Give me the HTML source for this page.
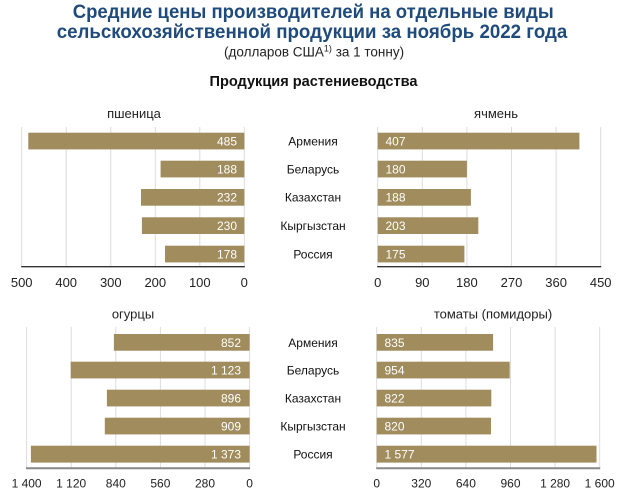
<!DOCTYPE html>
<html><head><meta charset="utf-8">
<style>
html,body{margin:0;padding:0;background:#fff;}
body{width:621px;height:492px;overflow:hidden;}
svg{display:block;font-family:"Liberation Sans",Arial,sans-serif;}
</style></head>
<body>
<svg width="621" height="492" viewBox="0 0 621 492" xmlns="http://www.w3.org/2000/svg">
<rect width="621" height="492" fill="#fff"/>
<text x="72.7" y="18" font-size="19.5" font-weight="bold" fill="#1f4a7c" textLength="481" lengthAdjust="spacingAndGlyphs">Средние цены производителей на отдельные виды</text>
<text x="56.7" y="38" font-size="19.5" font-weight="bold" fill="#1f4a7c" textLength="510.6" lengthAdjust="spacingAndGlyphs">сельскохозяйственной продукции за ноябрь 2022 года</text>
<text x="224" y="56.5" font-size="13.5" fill="#222">(долларов США<tspan font-size="9" dy="-5">1)</tspan><tspan dy="5"> за 1 тонну)</tspan></text>
<text x="209.5" y="86" font-size="14.5" font-weight="bold" fill="#111" textLength="208" lengthAdjust="spacingAndGlyphs">Продукция растениеводства</text>

<!-- subtitles -->
<text x="134" y="118" text-anchor="middle" font-size="13" fill="#222">пшеница</text>
<text x="496" y="118" text-anchor="middle" font-size="13" fill="#222">ячмень</text>
<text x="133" y="318.5" text-anchor="middle" font-size="13" fill="#222">огурцы</text>
<text x="493" y="318.5" text-anchor="middle" font-size="13" fill="#222">томаты (помидоры)</text>

<!-- gridlines -->
<g stroke="#dcdcdc" stroke-width="1">
<line x1="21.7" y1="127" x2="21.7" y2="267"/>
<line x1="66.2" y1="127" x2="66.2" y2="267"/>
<line x1="110.8" y1="127" x2="110.8" y2="267"/>
<line x1="155.3" y1="127" x2="155.3" y2="267"/>
<line x1="199.8" y1="127" x2="199.8" y2="267"/>
<line x1="244.3" y1="127" x2="244.3" y2="267"/>
<line x1="377.7" y1="127" x2="377.7" y2="267"/>
<line x1="422.3" y1="127" x2="422.3" y2="267"/>
<line x1="466.9" y1="127" x2="466.9" y2="267"/>
<line x1="511.5" y1="127" x2="511.5" y2="267"/>
<line x1="556.1" y1="127" x2="556.1" y2="267"/>
<line x1="600.7" y1="127" x2="600.7" y2="267"/>
<line x1="26.6" y1="327" x2="26.6" y2="468"/>
<line x1="71.2" y1="327" x2="71.2" y2="468"/>
<line x1="115.8" y1="327" x2="115.8" y2="468"/>
<line x1="160.4" y1="327" x2="160.4" y2="468"/>
<line x1="205" y1="327" x2="205" y2="468"/>
<line x1="249.6" y1="327" x2="249.6" y2="468"/>
<line x1="376.7" y1="327" x2="376.7" y2="468"/>
<line x1="421.3" y1="327" x2="421.3" y2="468"/>
<line x1="465.9" y1="327" x2="465.9" y2="468"/>
<line x1="510.5" y1="327" x2="510.5" y2="468"/>
<line x1="555.1" y1="327" x2="555.1" y2="468"/>
<line x1="599.7" y1="327" x2="599.7" y2="468"/>
</g>

<g fill="#a08c5c">
<rect x="28.3" y="132.7" width="216" height="16.7"/>
<rect x="160.6" y="160.7" width="83.7" height="16.7"/>
<rect x="141" y="189" width="103.3" height="16.7"/>
<rect x="141.9" y="217.3" width="102.4" height="16.7"/>
<rect x="165" y="245.7" width="79.3" height="16.7"/>
<rect x="377.7" y="132.7" width="201.7" height="16.7"/>
<rect x="377.7" y="160.7" width="89.2" height="16.7"/>
<rect x="377.7" y="189" width="93.2" height="16.7"/>
<rect x="377.7" y="217.3" width="100.6" height="16.7"/>
<rect x="377.7" y="245.7" width="86.7" height="16.7"/>
<rect x="113.9" y="334" width="135.7" height="16.7"/>
<rect x="70.7" y="361.7" width="178.9" height="16.7"/>
<rect x="106.9" y="389.7" width="142.7" height="16.7"/>
<rect x="104.8" y="417.7" width="144.8" height="16.7"/>
<rect x="30.9" y="445.7" width="218.7" height="16.9"/>
<rect x="376.7" y="334" width="116.4" height="16.7"/>
<rect x="376.7" y="361.7" width="133" height="16.7"/>
<rect x="376.7" y="389.7" width="114.6" height="16.7"/>
<rect x="376.7" y="417.7" width="114.3" height="16.7"/>
<rect x="376.7" y="445.7" width="219.8" height="16.9"/>
</g>

<g font-size="12" fill="#fff">
<g text-anchor="end">
<text x="237" y="145.3">485</text>
<text x="237" y="173.3">188</text>
<text x="237" y="201.6">232</text>
<text x="237" y="229.8">230</text>
<text x="237" y="258.3">178</text>
<text x="241" y="346.8">852</text>
<text x="241" y="374.5">1 123</text>
<text x="241" y="402.5">896</text>
<text x="241" y="430.5">909</text>
<text x="241" y="458.5">1 373</text>
</g>
<text x="385.5" y="145.3">407</text>
<text x="385.5" y="173.3">180</text>
<text x="385.5" y="201.6">188</text>
<text x="385.5" y="229.8">203</text>
<text x="385.5" y="258.3">175</text>
<text x="384.5" y="346.8">835</text>
<text x="384.5" y="374.5">954</text>
<text x="384.5" y="402.5">822</text>
<text x="384.5" y="430.5">820</text>
<text x="384.5" y="458.5">1 577</text>
</g>

<g font-size="12" fill="#111" text-anchor="middle">
<text x="313" y="145.3">Армения</text>
<text x="313" y="173.3">Беларусь</text>
<text x="313" y="201.6">Казахстан</text>
<text x="313" y="229.8">Кыргызстан</text>
<text x="313" y="258.3">Россия</text>
<text x="313" y="346.8">Армения</text>
<text x="313" y="374.5">Беларусь</text>
<text x="313" y="402.5">Казахстан</text>
<text x="313" y="430.5">Кыргызстан</text>
<text x="313" y="458.5">Россия</text>
</g>

<line x1="21.2" y1="266.7" x2="244.8" y2="266.7" stroke="#333" stroke-width="1.3"/>
<line x1="377.2" y1="266.7" x2="601.2" y2="266.7" stroke="#333" stroke-width="1.3"/>
<line x1="26" y1="468.3" x2="250" y2="468.3" stroke="#888" stroke-width="2"/>
<line x1="376.2" y1="468.3" x2="600.2" y2="468.3" stroke="#888" stroke-width="2"/>

<g font-size="13" fill="#222" text-anchor="middle">
<text x="21.7" y="286.8">500</text>
<text x="66.2" y="286.8">400</text>
<text x="110.8" y="286.8">300</text>
<text x="155.3" y="286.8">200</text>
<text x="199.8" y="286.8">100</text>
<text x="244.3" y="286.8">0</text>
<text x="377.7" y="286.8">0</text>
<text x="422.3" y="286.8">90</text>
<text x="466.9" y="286.8">180</text>
<text x="511.5" y="286.8">270</text>
<text x="556.1" y="286.8">360</text>
<text x="600.7" y="286.8">450</text>
</g>
<g font-size="12" fill="#222" text-anchor="middle">
<text x="26.6" y="487.5">1 400</text>
<text x="71.2" y="487.5">1 120</text>
<text x="115.8" y="487.5">840</text>
<text x="160.4" y="487.5">560</text>
<text x="205" y="487.5">280</text>
<text x="249.6" y="487.5">0</text>
<text x="376.7" y="487.5">0</text>
<text x="421.3" y="487.5">320</text>
<text x="465.9" y="487.5">640</text>
<text x="510.5" y="487.5">960</text>
<text x="555.1" y="487.5">1 280</text>
<text x="599.7" y="487.5">1 600</text>
</g>
</svg>
</body></html>
